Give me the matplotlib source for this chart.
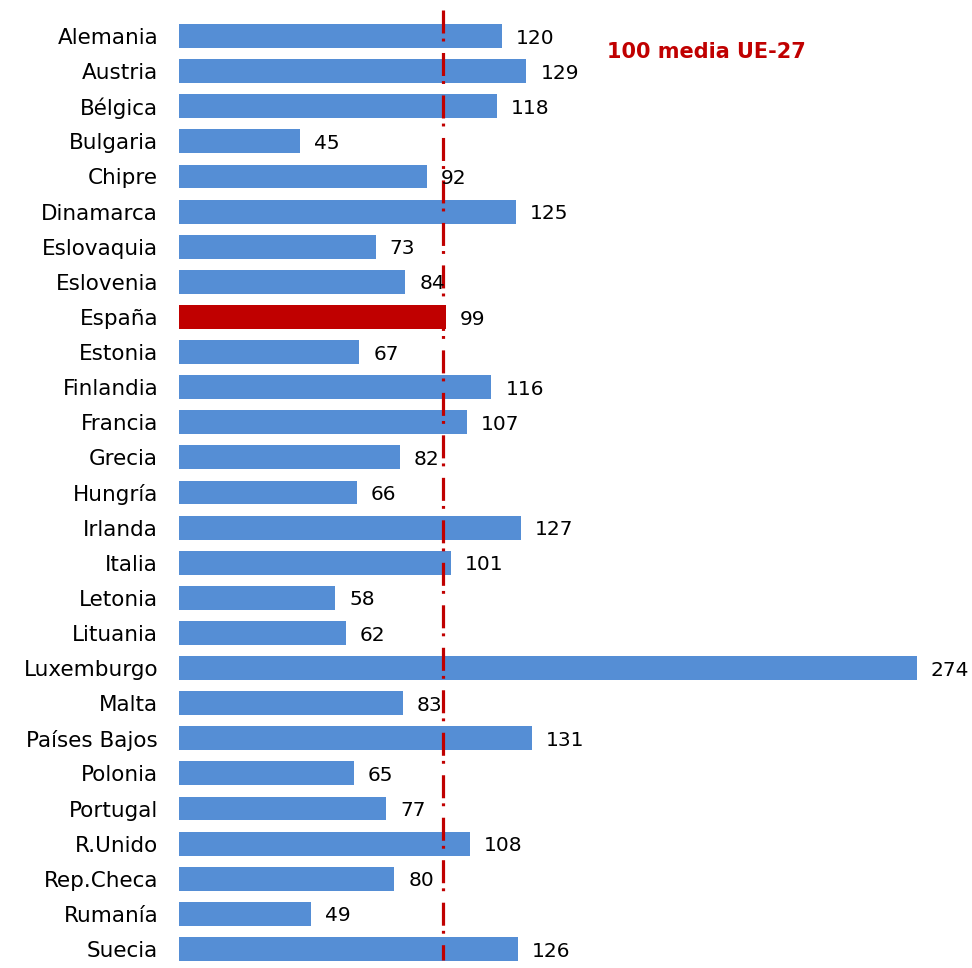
import matplotlib.pyplot as plt

countries = ["Alemania", "Austria", "Bélgica", "Bulgaria", "Chipre", "Dinamarca",
             "Eslovaquia", "Eslovenia", "España", "Estonia", "Finlandia", "Francia",
             "Grecia", "Hungría", "Irlanda", "Italia", "Letonia", "Lituania",
             "Luxemburgo", "Malta", "Países Bajos", "Polonia", "Portugal",
             "R.Unido", "Rep.Checa", "Rumanía", "Suecia"]
values = [120, 129, 118, 45, 92, 125, 73, 84, 99, 67, 116, 107, 82, 66, 127,
          101, 58, 62, 274, 83, 131, 65, 77, 108, 80, 49, 126]
highlight = "España"
eu_mean_label = "100 media UE-27"

blue = "#558ED5"
red = "#C00000"

n = len(countries)
fig = plt.figure(figsize=(9.72, 9.68), dpi=100)
# first row centre at ~36px, last at ~949px
pitch = (949 - 36) / (n - 1)
top = -36 / pitch
bottom = (968 - 36) / pitch
ax = fig.add_axes([179 / 972, 0, 1 - 179 / 972, 1])

ypos = list(range(n))
colors = [red if c == highlight else blue for c in countries]
ax.barh(ypos, values, height=0.68, color=colors, zorder=2)

px_per_unit = (917 - 179) / 274
ax.set_xlim(0, (972 - 179) / px_per_unit)
ax.set_ylim(bottom, top)

# mean reference line (drawn in the original slightly left of 100)
ax.plot([98, 98], [(10 - 36) / pitch, (960 - 36) / pitch], color=red, lw=2.3,
        dashes=(7.2, 1.6, 0.9, 3.6), zorder=3)

for y, v in zip(ypos, values):
    ax.annotate(str(v), (v, y), xytext=(10, -1.5), textcoords="offset points",
                ha="left", va="center", fontsize=14.5, color="black")

ax.text((607 - 179) / px_per_unit, (52 - 36) / pitch, eu_mean_label,
        color=red, fontsize=15, fontweight="bold", ha="left", va="center")

ax.set_yticks(ypos)
ax.set_yticklabels(countries, fontsize=15.5)
ax.tick_params(axis="y", length=0, pad=15)
ax.set_xticks([])
for s in ax.spines.values():
    s.set_visible(False)

fig.savefig("out.png", dpi=100)
